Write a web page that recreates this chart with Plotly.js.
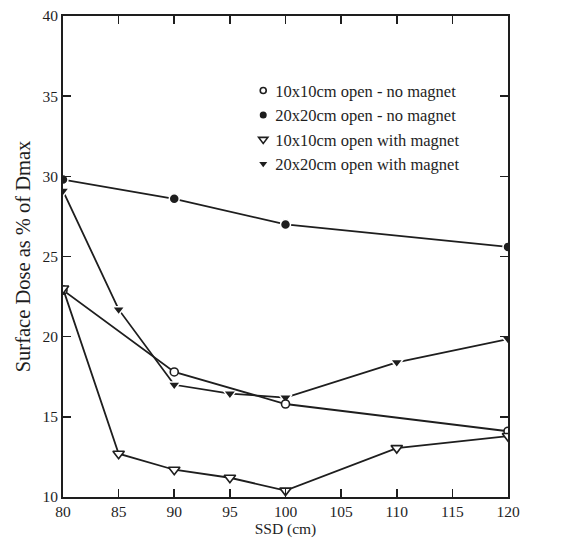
<!DOCTYPE html>
<html><head><meta charset="utf-8">
<script src="https://cdn.plot.ly/plotly-3.0.1.min.js"></script>
<style>html,body{margin:0;padding:0;background:#fff}</style>
</head><body><div id="c" style="width:573px;height:540px"></div>
<script>
var ssdA = [80, 90, 100, 120];
var open10NoMag = [22.9, 17.8, 15.8, 14.1];
var open20NoMag = [29.8, 28.6, 27.0, 25.6];
var ssdB = [80, 85, 90, 95, 100, 110, 120];
var open10Mag = [23.0, 12.7, 11.7, 11.2, 10.4, 13.05, 13.8];
var open20Mag = [29.1, 21.7, 17.0, 16.45, 16.2, 18.4, 19.85];
var names = ["10x10cm open - no magnet", "20x20cm open - no magnet", "10x10cm open with magnet", "20x20cm open with magnet"];
var xTicks = [80, 85, 90, 95, 100, 105, 110, 115, 120];
var yTicks = [10, 15, 20, 25, 30, 35, 40];

var ink = '#1e1e1e';
var font = 'Liberation Serif, Times New Roman, serif';
function dataTrace(x, y, sym, fill, size) {
  return {x: x, y: y, mode: 'lines+markers', showlegend: false,
    line: {color: ink, width: 1.8},
    marker: {symbol: sym, size: size, color: fill, line: {color: fill === '#ffffff' ? ink : '#ffffff', width: fill === '#ffffff' ? 1.6 : 1.5}}};
}
function legTrace(name, sym, fill, size) {
  return {x: [null], y: [null], mode: 'markers', name: name, showlegend: true,
    marker: {symbol: sym, size: size, color: fill, line: {color: ink, width: fill === '#ffffff' ? 1.6 : 0}}};
}
var traces = [
  dataTrace(ssdA, open20NoMag, 'circle', ink, 10),
  dataTrace(ssdB, open20Mag, 'triangle-down', ink, 11),
  dataTrace(ssdA, open10NoMag, 'circle', '#ffffff', 8),
  dataTrace(ssdB, open10Mag, 'triangle-down', '#ffffff', 10),
  legTrace(names[0], 'circle', '#ffffff', 6),
  legTrace(names[1], 'circle', ink, 7),
  legTrace(names[2], 'triangle-down', '#ffffff', 8),
  legTrace(names[3], 'triangle-down', ink, 7)
];
var axBase = {showgrid: false, zeroline: false, showline: true, linecolor: ink, linewidth: 1.8,
  mirror: 'ticks', ticks: 'inside', ticklen: 8, tickwidth: 1.6, tickcolor: ink,
  tickfont: {family: font, size: 15.5, color: ink}};
var layout = {
  width: 573, height: 540,
  margin: {l: 63, r: 65, t: 16, b: 43},
  paper_bgcolor: '#ffffff', plot_bgcolor: '#ffffff',
  font: {family: font, color: ink},
  xaxis: Object.assign({}, axBase, {range: [80, 120], tickvals: xTicks, ticktext: xTicks.map(String),
    title: {text: 'SSD (cm)', font: {family: font, size: 15.5, color: ink}, standoff: 1}}),
  yaxis: Object.assign({}, axBase, {range: [10, 40], tickvals: yTicks, ticktext: yTicks.map(String),
    title: {text: 'Surface Dose as % of Dmax', font: {family: font, size: 20.5, color: ink}, standoff: 6}}),
  legend: {x: 0.405, y: 0.881, xanchor: 'left', yanchor: 'top', bgcolor: 'rgba(0,0,0,0)',
    font: {family: font, size: 16.5, color: ink}, tracegroupgap: 0, itemwidth: 30},
  showlegend: true
};
Plotly.newPlot('c', traces, layout, {staticPlot: true, displayModeBar: false}).then(function () {
  document.querySelectorAll('.legendtext').forEach(function (t) {
    var x = parseFloat(t.getAttribute('x')) || 0;
    t.setAttribute('x', x - 8);
  });
});
</script></body></html>
